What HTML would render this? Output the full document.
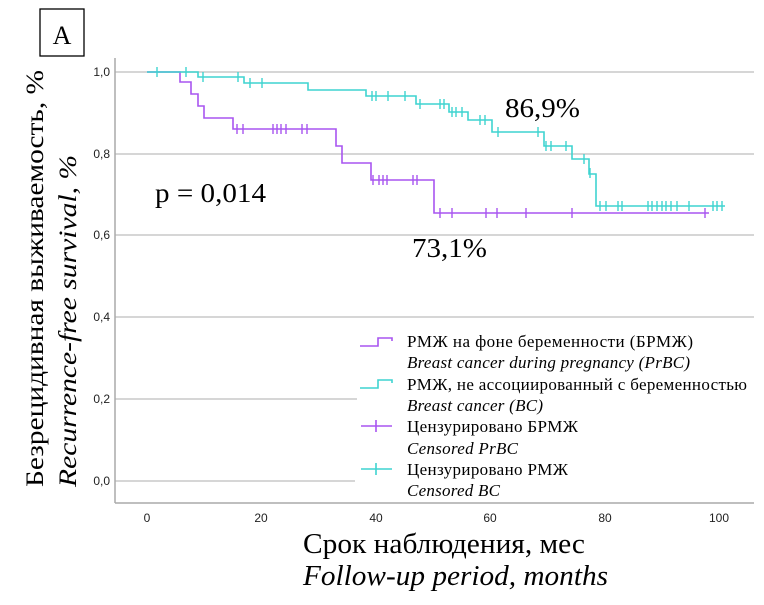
<!DOCTYPE html>
<html><head><meta charset="utf-8"><style>
html,body{margin:0;padding:0;background:#fff;}
svg{display:block;}
.t{font-family:"Liberation Sans",sans-serif;font-size:12px;fill:#222;}
.s{font-family:"Liberation Serif",serif;fill:#000;}
</style></head><body>
<svg width="764" height="605" viewBox="0 0 764 605" xmlns="http://www.w3.org/2000/svg">
<rect x="40" y="9" width="44" height="47" fill="none" stroke="#000" stroke-width="1.3"/>
<text x="62" y="44" class="s" font-size="26" text-anchor="middle">A</text>
<g stroke="#c8c8c8" stroke-width="1.5">
<line x1="115" y1="72" x2="754" y2="72"/>
<line x1="115" y1="154" x2="754" y2="154"/>
<line x1="115" y1="235" x2="754" y2="235"/>
<line x1="115" y1="317" x2="754" y2="317"/>
<line x1="115" y1="399" x2="357" y2="399"/>
<line x1="115" y1="481" x2="355" y2="481"/>
</g>
<line x1="115" y1="58" x2="115" y2="503" stroke="#aaa" stroke-width="1.5"/>
<line x1="115" y1="503" x2="754" y2="503" stroke="#aaa" stroke-width="1.5"/>
<g class="t" text-anchor="end">
<text x="110" y="76">1,0</text><text x="110" y="158">0,8</text><text x="110" y="239">0,6</text>
<text x="110" y="321">0,4</text><text x="110" y="403">0,2</text><text x="110" y="485">0,0</text>
</g>
<g class="t" text-anchor="middle">
<text x="147" y="522">0</text><text x="261" y="522">20</text><text x="376" y="522">40</text>
<text x="490" y="522">60</text><text x="605" y="522">80</text><text x="719" y="522">100</text>
</g>
<text transform="translate(43,487) rotate(-90)" class="s" font-size="25" textLength="417" lengthAdjust="spacingAndGlyphs">Безрецидивная выживаемость, %</text>
<text transform="translate(76,487) rotate(-90)" class="s" font-size="25" font-style="italic" textLength="332" lengthAdjust="spacingAndGlyphs">Recurrence-free survival, %</text>
<text x="303" y="553" class="s" font-size="28" textLength="282" lengthAdjust="spacingAndGlyphs">Срок наблюдения, мес</text>
<text x="303" y="585" class="s" font-size="28" font-style="italic" textLength="305" lengthAdjust="spacingAndGlyphs">Follow-up period, months</text>
<text x="505" y="117" class="s" font-size="27" textLength="75" lengthAdjust="spacingAndGlyphs">86,9%</text>
<text x="412" y="257" class="s" font-size="27" textLength="75" lengthAdjust="spacingAndGlyphs">73,1%</text>
<text x="155" y="202" class="s" font-size="27" textLength="111" lengthAdjust="spacingAndGlyphs">p = 0,014</text>
<!-- PrBC -->
<polyline fill="none" stroke="#a855f0" stroke-width="1.6" points="147,72 180,72 180,82 191,82 191,94 198,94 198,106 204,106 204,118 233,118 233,129 336,129 336,146 342,146 342,163 371,163 371,180 434,180 434,213 709,213"/>
<g stroke="#a855f0" stroke-width="1.4">
<path d="M237,124v10M243,124v10M273,124v10M277,124v10M281,124v10M286,124v10M302,124v10M307,124v10M373,175v10M379,175v10M383,175v10M387,175v10M413,175v10M417,175v10M440,208v10M452,208v10M486,208v10M497,208v10M526,208v10M572,208v10M705,208v10"/>
</g>
<!-- BC -->
<polyline fill="none" stroke="#3fd4d0" stroke-width="1.6" points="147,72 198,72 198,77 244,77 244,83 308,83 308,90 366,90 366,96 416,96 416,104 449,104 449,112 468,112 468,120 492,120 492,132 544,132 544,146 572,146 572,159 589,159 589,174 596,174 596,206 725,206"/>
<g stroke="#3fd4d0" stroke-width="1.4">
<path d="M157,67v10M186,67v10M203,72v10M238,72v10M250,78v10M262,78v10M372,91v10M376,91v10M388,91v10M405,91v10M420,99v10M440,99v10M444,99v10M452,107v10M456,107v10M462,107v10M480,115v10M485,115v10M498,127v10M538,127v10M546,141v10M551,141v10M566,141v10M584,154v10M590,168v10M600,201v10M606,201v10M618,201v10M622,201v10M648,201v10M652,201v10M657,201v10M662,201v10M666,201v10M671,201v10M677,201v10M689,201v10M713,201v10M717,201v10M722,201v10"/>
</g>
<!-- legend -->
<g fill="none" stroke-width="1.6">
<polyline stroke="#a855f0" points="360,346 378,346 378,338 392,338 392,341"/>
<polyline stroke="#3fd4d0" points="360,388 378,388 378,380 392,380 392,383"/>
<path stroke="#a855f0" d="M361,426h31M376,420v12"/>
<path stroke="#3fd4d0" d="M361,469h31M376,463v12"/>
</g>
<g class="s" font-size="17" lengthAdjust="spacingAndGlyphs">
<text x="407" y="347" textLength="286">РМЖ на фоне беременности (БРМЖ)</text>
<text x="407" y="368" font-style="italic" textLength="283">Breast cancer during pregnancy (PrBC)</text>
<text x="407" y="390" textLength="340">РМЖ, не ассоциированный с беременностью</text>
<text x="407" y="411" font-style="italic" textLength="136">Breast cancer (BC)</text>
<text x="407" y="432" textLength="171">Цензурировано БРМЖ</text>
<text x="407" y="454" font-style="italic" textLength="111">Censored PrBC</text>
<text x="407" y="475" textLength="161">Цензурировано РМЖ</text>
<text x="407" y="496" font-style="italic" textLength="93">Censored BC</text>
</g>
</svg>
</body></html>
